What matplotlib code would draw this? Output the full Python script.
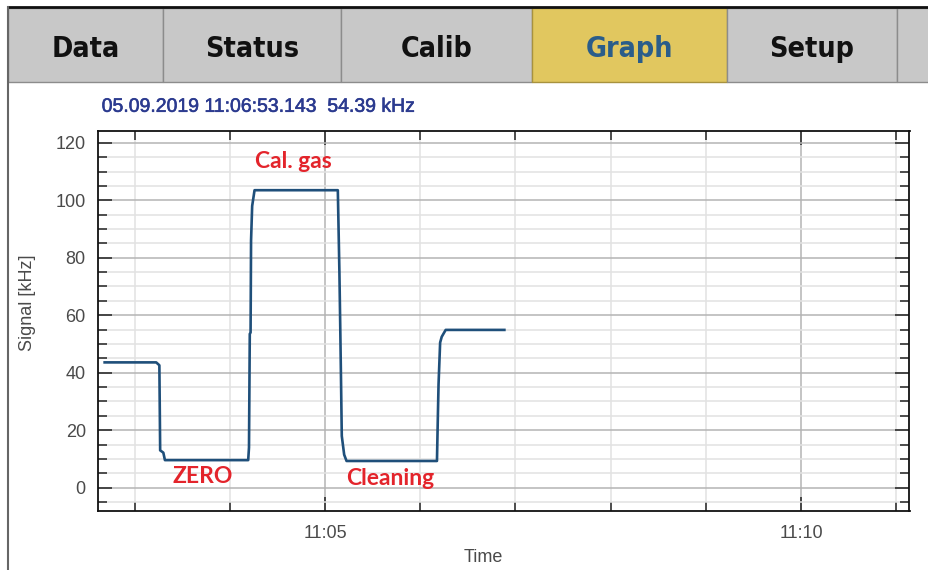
import matplotlib
matplotlib.use("Agg")
import matplotlib.pyplot as plt
import matplotlib.dates as mdates
import matplotlib.patheffects as pe
from matplotlib.patches import Rectangle
from matplotlib.ticker import MultipleLocator
import pandas as pd

# ---------------- data ----------------
DATE = "2019-09-05"
times = ["11:02:41", "11:03:13.5", "11:03:15.5", "11:03:16", "11:03:18", "11:03:19",
         "11:04:11.5", "11:04:12", "11:04:12.5", "11:04:13", "11:04:13.3", "11:04:14",
         "11:04:15.5", "11:05:08", "11:05:09", "11:05:09.5", "11:05:10", "11:05:10.5",
         "11:05:12", "11:05:13.5", "11:06:10.5", "11:06:11", "11:06:11.5", "11:06:12.5",
         "11:06:13.5", "11:06:16", "11:06:53"]
signal = [43.6, 43.6, 42.6, 13.0, 12.2, 9.6,
          9.6, 14.0, 53.5, 54.0, 86.0, 98.0,
          103.5, 103.5, 75.0, 57.0, 38.0, 18.0,
          11.5, 9.3, 9.3, 23.0, 36.0, 50.5,
          52.5, 54.9, 54.9]

tabs = ["Data", "Status", "Calib", "Graph", "Setup", ""]
active_tab = "Graph"
header = "05.09.2019 11:06:53.143  54.39 kHz"

labels = ["Cal. gas", "ZERO", "Cleaning"]
label_times = ["11:04:40", "11:03:43", "11:05:41"]
label_values = [111.1, 1.7, 0.9]

x_range = ["11:02:37", "11:11:08.4"]
y_range = [-8.1, 124.2]

def ts(s):
    return pd.Timestamp(f"{DATE} {s}")

t = [ts(s) for s in times]

# ---------------- figure ----------------
W, H = 929, 570
fig = plt.figure(figsize=(W / 100, H / 100), dpi=100)
fig.patch.set_facecolor("white")

bg = fig.add_axes([0, 0, 1, 1], zorder=0)
bg.set_xlim(0, W)
bg.set_ylim(H, 0)
bg.axis("off")

# tab bar
tab_edges = [8.3, 162.7, 340.7, 532.3, 726.7, 897.3, 940]
tab_top, tab_bot = 8, 82
for i, name in enumerate(tabs):
    x0, x1 = tab_edges[i], tab_edges[i + 1]
    active = name == active_tab
    fc = "#e1c75f" if active else "#c8c8c8"
    ec = "#a8923e" if active else "#8c8c8c"
    bg.add_patch(Rectangle((x0, tab_top), x1 - x0, tab_bot - tab_top,
                           facecolor=fc, edgecolor=ec, lw=1.0))
    if name:
        bg.text((x0 + x1) / 2, 57, name, ha="center", va="baseline",
                fontsize=20.5, fontweight="bold", fontstretch="condensed",
                family="DejaVu Sans",
                color="#2a5d8a" if active else "#111111")
bg.plot([8, W], [7, 7], color="#111111", lw=2.0, solid_capstyle="butt")
bg.plot([8.5, 8.5], [7, H], color="#666666", lw=1.5)

# header text
hcol = "#2b3a8f"
fig.text(101.7 / W, 1 - 107.3 / H, header, ha="left", va="center",
         fontsize=14, color=hcol, family="Liberation Sans",
         path_effects=[pe.withStroke(linewidth=0.4, foreground=hcol)])

# ---------------- plot axes ----------------
L, R, T, B = 98.3, 909.5, 130.7, 511.0
ax = fig.add_axes([L / W, 1 - B / H, (R - L) / W, (B - T) / H], zorder=1)
ax.plot(t, signal, color="#1f4f7a", lw=1.9, zorder=3, solid_joinstyle="round")

ax.set_xlim(ts(x_range[0]), ts(x_range[1]))
ax.set_ylim(*y_range)

ax.xaxis.set_major_locator(mdates.MinuteLocator(byminute=range(0, 60, 5)))
ax.xaxis.set_minor_locator(mdates.MinuteLocator())
ax.xaxis.set_major_formatter(mdates.DateFormatter("%H:%M"))
ax.yaxis.set_major_locator(MultipleLocator(20))
ax.yaxis.set_minor_locator(MultipleLocator(5))

ax.set_axisbelow(True)
ax.grid(which="major", color="#b4b4b4", lw=1.1)
ax.grid(which="minor", color="#e2e2e2", lw=1.1)

ax.tick_params(which="both", direction="in", top=True, right=True,
               color="#222222", labelcolor="#4a4a4a", labelsize=13)
ax.tick_params(which="major", length=10, width=1.1)
ax.tick_params(which="minor", length=6.5, width=1.1)
ax.tick_params(axis="x", which="major", pad=10)
ax.tick_params(axis="y", which="major", pad=9)
for lab in ax.get_xticklabels() + ax.get_yticklabels():
    lab.set_family("Liberation Sans")
for sp in ax.spines.values():
    sp.set_color("#111111")
    sp.set_linewidth(1.3)

ax.set_xlabel("Time", fontsize=13, color="#4a4a4a", family="Liberation Sans", va="center")
ax.xaxis.set_label_coords((483 - L) / (R - L), (B - 557) / (B - T))
ax.set_ylabel("Signal [kHz]", fontsize=13, color="#4a4a4a", family="Liberation Sans", va="center")
ax.yaxis.set_label_coords((28 - L) / (R - L), (B - 302.5) / (B - T))

for lab, lt, lv in zip(labels, label_times, label_values):
    ax.text(ts(lt), lv, lab, ha="center", va="baseline", fontsize=16.5,
            fontweight="bold", family="Lato", color="#e3242b", zorder=4)

fig.savefig("out.png", dpi=100)
